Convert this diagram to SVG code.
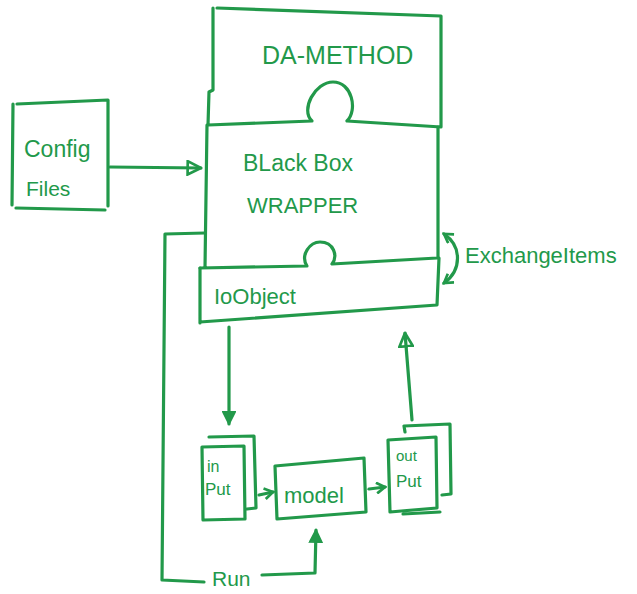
<svg xmlns="http://www.w3.org/2000/svg" width="637" height="594" viewBox="0 0 637 594">
<defs>
<style>
.s{fill:none;stroke:#22994a;stroke-width:3.2;stroke-linecap:round;stroke-linejoin:round}
.t{fill:#22994a;font-family:"Liberation Sans",Arial,sans-serif}
</style>
<marker id="open" viewBox="0 0 12 12" refX="11" refY="6" markerWidth="5" markerHeight="5" orient="auto" markerUnits="strokeWidth">
<path d="M1,1 L11,6 L1,11 Z" fill="none" stroke="#22994a" stroke-width="2"/>
</marker>
<marker id="fill" viewBox="0 0 12 12" refX="11" refY="6" markerWidth="4.5" markerHeight="4.5" orient="auto" markerUnits="strokeWidth">
<path d="M1,1 L11,6 L1,11 Z" fill="#22994a" stroke="#22994a" stroke-width="1.5"/>
</marker>
<marker id="vee" viewBox="0 0 12 12" refX="10" refY="6" markerWidth="4" markerHeight="4" orient="auto-start-reverse" markerUnits="strokeWidth">
<path d="M2,1 L10,6 L2,11" fill="none" stroke="#22994a" stroke-width="2.5"/>
</marker>
</defs>
<rect width="637" height="594" fill="#ffffff"/>

<g id="da-method">
<path class="s" d="M217,8 L441,16 L441,127 M213,8 L213,90 L209,92 L208,125 M208,125 L312,121 C300,110 315,82 333,82 C352,82 358,110 347,121 L441,127"/>
<text class="t" x="262" y="64" font-size="25">DA-METHOD</text>
</g>

<g id="black-box-wrapper">
<path class="s" d="M207,125 L205,268 M438,127 L438,258 M200,268 L307,266 C300,255 310,242 320,242 C334,242 338,256 332,264 L437,258"/>
<text class="t" x="243" y="171" font-size="23">BLack Box</text>
<text class="t" x="247" y="213" font-size="22">WRAPPER</text>
</g>

<g id="ioobject">
<path class="s" d="M200,268 L200,323 M200,322 L437,305 L439,258"/>
<text class="t" x="214" y="304" font-size="22">IoObject</text>
</g>

<g id="config-files">
<path class="s" d="M17,104 L108,100 L108,206 M16,208 L105,210 M13,104 L12,205"/>
<text class="t" x="24" y="157" font-size="23">Config</text>
<text class="t" x="26" y="196" font-size="21">Files</text>
</g>

<g id="exchange-items">
<text class="t" x="465" y="263" font-size="22">ExchangeItems</text>
</g>

<g id="input">
<path class="s" d="M209,437 L254,436 L256,508 L247,509 M202,447 L244,446 L245,519 L203,520 Z"/>
<text class="t" x="207" y="472" font-size="16">in</text>
<text class="t" x="205" y="495" font-size="17">Put</text>
</g>

<g id="model">
<path class="s" d="M275,466 L364,458 L366,512 L277,519 Z"/>
<text class="t" x="284" y="503" font-size="22">model</text>
</g>

<g id="output">
<path class="s" d="M405,432 L404,426 L450,424 L451,494 L442,495 M388,440 L436,437 L437,508 L390,512 Z M403,514 L440,512"/>
<text class="t" x="396" y="461" font-size="15">out</text>
<text class="t" x="396" y="487" font-size="17">Put</text>
</g>

<g id="run">
<text class="t" x="212" y="586" font-size="21">Run</text>
</g>

<g id="connectors">
<path class="s" d="M110,167 L201,168" marker-end="url(#open)"/>
<path class="s" d="M229,327 L229,424" marker-end="url(#fill)"/>
<path class="s" d="M412,420 L405,333" marker-end="url(#open)"/>
<path class="s" d="M259,495 L273,492" marker-end="url(#vee)"/>
<path class="s" d="M369,489 L385,487" marker-end="url(#vee)"/>
<path class="s" d="M205,233 L165,234 L162,580 L204,582"/>
<path class="s" d="M262,575 L315,573 L316,530" marker-end="url(#fill)"/>
<path class="s" d="M444,234 C462,246 462,270 444,283" marker-start="url(#vee)" marker-end="url(#vee)"/>
</g>
</svg>
